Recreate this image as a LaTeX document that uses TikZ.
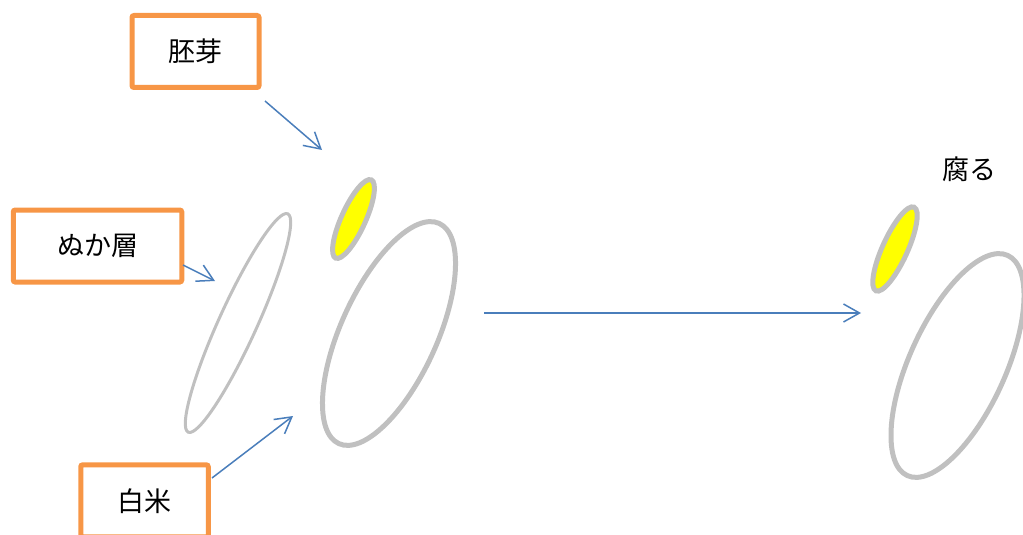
\documentclass[tikz,border=0pt]{standalone}
\usepackage{fontspec}
\newfontfamily\jp{Noto Sans CJK JP}
\usetikzlibrary{shapes.geometric,arrows.meta}
\definecolor{boxorange}{HTML}{F79646}
\definecolor{arrowblue}{HTML}{4A7EBB}
\definecolor{grain}{HTML}{C0C0C0}
\definecolor{germ}{HTML}{FFFF00}
\begin{document}
\begin{tikzpicture}[x=1pt,y=-1pt,
  labelbox/.style={draw=boxorange, line width=5pt, rounded corners=2pt,
    minimum height=72pt, inner sep=0pt, fill=white,
    font=\jp\fontsize{27}{32}\selectfont, text=black},
  pointer/.style={draw=arrowblue, line width=1.5pt,
    -{Straight Barb[length=16pt, width=18pt]}},
  grainshape/.style={ellipse, draw=grain, line width=5pt, inner sep=0pt, rotate=65.5},
  branshape/.style={ellipse, draw=grain, line width=3pt, inner sep=0pt, rotate=65.5},
  germshape/.style={ellipse, draw=grain, fill=germ, line width=5pt, inner sep=0pt, rotate=65.5},
  plaintext/.style={inner sep=0pt, font=\jp\fontsize{27}{32}\selectfont, text=black},
]
\useasboundingbox (0,0) rectangle (1023,535);

% grains
\node[branshape, minimum width=240pt, minimum height=38pt] (bran) at (238,323) {};
\node[grainshape, minimum width=242pt, minimum height=96pt] (rice1) at (389,333.5) {};
\node[germshape, minimum width=86pt, minimum height=24pt] (germ1) at (353.5,219) {};
\node[grainshape, minimum width=242pt, minimum height=96pt] (rice2) at (957.5,365.5) {};
\node[germshape, minimum width=92pt, minimum height=25pt] (germ2) at (895,249) {};

% labels
\node[labelbox, minimum width=127pt] (embryoLbl) at (195.5,51.5) {胚芽};
\node[labelbox, minimum width=168.5pt] (branLbl) at (97.5,246) {ぬか層};
\node[labelbox, minimum width=127.5pt] (riceLbl) at (144.5,500.8) {白米};
\node[plaintext] (rotLbl) at (969,169) {腐る};

% arrow end points
\coordinate (a1s) at (265,101);
\coordinate (a1e) at (322,150);
\coordinate (a2s) at (183,265);
\coordinate (a2e) at (215,281);
\coordinate (a3s) at (212,478);
\coordinate (a3e) at (293,416);
\coordinate (a4s) at (484,313);
\coordinate (a4e) at (861,313);

\draw[pointer] (a1s) -- (a1e);
\draw[pointer] (a2s) -- (a2e);
\draw[pointer] (a3s) -- (a3e);
\draw[pointer] (a4s) -- (a4e);
\end{tikzpicture}
\end{document}
